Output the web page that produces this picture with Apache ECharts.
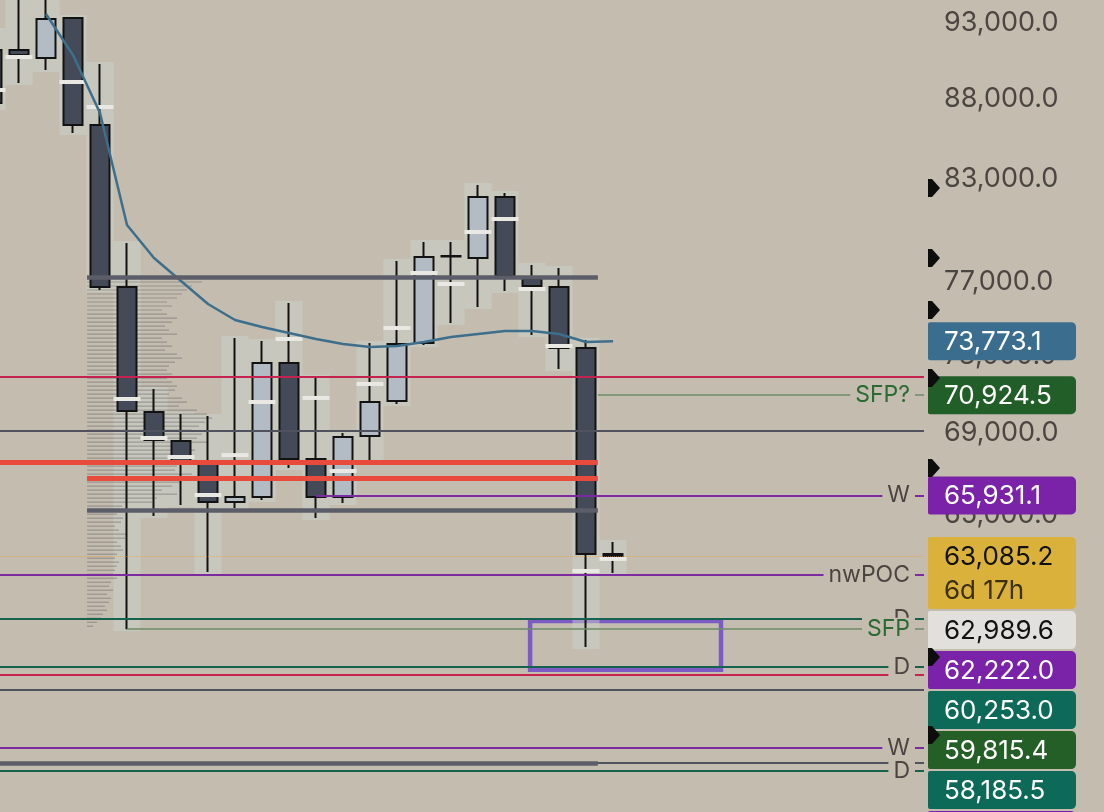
<!DOCTYPE html>
<html>
<head>
<meta charset="utf-8">
<script src="https://cdn.jsdelivr.net/npm/echarts@6/dist/echarts.min.js"></script>
<style>
  html, body { margin: 0; padding: 0; background: #c3bcaf; }
  #chart { width: 1104px; height: 812px; }
</style>
</head>
<body>
<div id="chart"></div>
<script>
// candles, oldest first (bar 0 is cut by the left edge)
var opens  = [91189, 91189, 90660, 93340, 86344, 76739, 70064, 68600, 67462, 65621, 65861, 72609, 67708, 65861, 68850, 70627, 73673, 78490, 78376, 81935, 77187, 76739, 73405, 63183]
var closes = [87738, 90858, 93271, 86344, 76739, 70115, 68650, 67511, 65621, 65861, 72609, 67708, 65861, 68800, 70576, 73620, 78433, 78462, 81935, 77356, 76795, 73405, 63183, 63085.2]
var highs  = [92527, 95300, 95500, 93400, 90264, 79237, 71247, 69962, 69859, 73941, 73780, 75850, 71873, 69001, 73673, 78205, 79295, 79295, 82654, 82174, 77978, 77807, 73833, 63737]
var lows   = [87419, 89025, 89871, 85843, 76572, 59815.4, 64955, 65477, 62361, 65335, 65717, 67266, 64861, 65574, 67659, 70473, 73566, 74753, 75629, 76516, 74102, 72292, 59048, 62316]

// moving average and per-bar point of control
var maValues = [null, null, 93611, 90858, 87102, 80282, 78376, 77075, 75794, 74916, 74536, 74211, 73889, 73620, 73460, 73514, 73726, 73996, 74157, 74320, 74320, 74157, 73726, 73773.1]
var barPoc = [88572, 90726, null, 89090, 87483, 70731, 68750, 67806, 65956, 67900, 70576, 73889, 70784, 67119, 71508, 74481, 77525, 76907, 79874, 80633, 76627, 73513, 62407, 62954]

// visible range volume profile (top row price, ratio per row, volume per row)
var profileTop = 77243
var profileStep = 0.99709
var profileVolume = [110, 115, 105, 100, 95, 90,
  80, 85, 75, 80, 90, 85, 78, 82, 90,
  75, 80, 85, 78, 90, 95, 88, 82, 80, 85,
  80, 85, 90, 88, 82, 95, 100, 92,
  110, 120, 125, 118, 112,
  105, 115, 110, 120, 100, 108, 95,
  95, 100, 90, 88, 105, 80, 95, 85, 75, 90, 70, 65,
  35, 32, 30, 36, 34, 28, 32, 40, 38, 30, 34, 36, 30, 28, 32, 30,
  28, 26, 30, 24, 22, 26, 20, 24, 22, 18, 20, 16, 14, 10, 6]
var profileFrom = 3.52

// levels
var dailyLevels = [60253.0, 58185.5, 53951.0]
var weeklyLevels = [65931.1, 54862.0]
var weeklyFrom = [12, null]
var nwPocLevel = 62222.0
var sfpLevels = [70924.5, 59815.4]
var sfpFrom = [22.44, 5]
var sfpText = ['SFP?', 'SFP']
var crimsonLevels = [71873, 57857]
var grayLevels = [69100, 57228, 54267]
var rangeLevels = [77300, 65239, 54267]
var rangeFrom = [3.52, 3.52, null]
var redLevels = [67559, 66778]
var redFrom = [null, 3.52]
var levelsTo = 22.44
var lastPrice = 63085.2
var countdown = '6d 17h'
var zone = { from: 19.93, to: 27.0, top: 60175, bottom: 58071 }

// price scale ticks and right side tags
var tickPrices = [93000, 88000, 83000, 77000, 73000, 69000, 65000]
var tagPrices = [73773.1, 70924.5, 65931.1, 63085.2, 62989.6, 62222.0, 60253.0, 59815.4, 58185.5, 54862.0, 53951.0]
var alertPrices = [82473, 78376, 75465, 71819, 67265, 58617, 55383]

var X_MIN = 8 / 27
var X_MAX = 932 / 27
var Y_MAX = Math.log(93000) + 23 / 1373.6
var Y_MIN = Math.log(93000) - 789 / 1373.6

var BG = '#c3bcaf'
var FONT = 'Inter, "Noto Sans", sans-serif'
var tagFill = ['#3b6d8f', '#225e27', '#7a22a8', '#dab13b', '#e1e0dd', '#7a22a8', '#0d6a58', '#235f26', '#0d6a58', '#7a22a8', '#0d6a58']
var tagInk = ['#fff', '#fff', '#fff', '#111', '#111', '#fff', '#fff', '#fff', '#fff', '#fff', '#fff']

function fmt (v) {
  return v.toLocaleString('en-US', { minimumFractionDigits: 1, maximumFractionDigits: 1 })
}
var L = Math.log

var chart = echarts.init(document.getElementById('chart'))

// level lines
var lines = []
var lineLabels = []
function addLine (price, from, to, color, width, type, text, textColor) {
  lines.push([
    { coord: [from == null ? X_MIN : from, L(price)], lineStyle: { color: color, width: width, type: type || 'solid' } },
    { coord: [to == null ? X_MAX : to, L(price)] }
  ])
  if (text) lineLabels.push([X_MAX, L(price), text, textColor || '#4a4540'])
}
crimsonLevels.forEach(function (p) { addLine(p, null, null, '#c4234f', 2) })
grayLevels.forEach(function (p) { addLine(p, null, null, '#50535d', 2) })
rangeLevels.forEach(function (p, i) { addLine(p, rangeFrom[i], levelsTo, '#5b5e68', 4.5) })
redLevels.forEach(function (p, i) { addLine(p, redFrom[i], levelsTo, '#e84a3b', 5) })
addLine(lastPrice, null, null, 'rgba(214,160,90,0.55)', 1, 'dotted')
weeklyLevels.forEach(function (p, i) { addLine(p, weeklyFrom[i], null, '#7b2aa0', 2, 'solid', 'W') })
addLine(nwPocLevel, null, null, '#7b2aa0', 2, 'solid', 'nwPOC')
dailyLevels.forEach(function (p) { addLine(p, null, null, '#17614f', 2, 'solid', 'D') })
sfpLevels.forEach(function (p, i) { addLine(p, sfpFrom[i], null, '#6c8c66', 1.5, 'solid', sfpText[i], '#2c6a33') })

var tagBottom = -Infinity

var option = {
  backgroundColor: BG,
  animation: false,
  grid: { left: 0, right: 180, top: 0, bottom: 0 },
  xAxis: { type: 'value', min: X_MIN, max: X_MAX, show: false },
  yAxis: {
    type: 'value',
    position: 'right',
    min: Y_MIN,
    max: Y_MAX,
    splitLine: { show: false },
    axisLine: { show: false },
    axisTick: { show: false },
    axisLabel: {
      customValues: tickPrices.map(L),
      formatter: function (v) { return fmt(Math.round(Math.exp(v))) },
      color: '#4b4641',
      fontSize: 27,
      fontFamily: FONT,
      margin: 20
    }
  },
  series: [
    {
      // per-bar range shading
      type: 'custom',
      z: 1,
      clip: true,
      data: highs.map(function (h, i) { return [i, L(h), L(lows[i])] }),
      renderItem: function (params, api) {
        var a = api.coord([api.value(0) - 0.5, api.value(1)])
        var b = api.coord([api.value(0) + 0.5, api.value(2)])
        return {
          type: 'rect',
          shape: { x: a[0], y: a[1] - 2, width: b[0] - a[0], height: b[1] - a[1] + 4 },
          style: { fill: 'rgba(206,212,206,0.45)' }
        }
      }
    },
    {
      // volume profile
      type: 'custom',
      z: 1,
      clip: true,
      data: profileVolume.map(function (v, i) { return [profileFrom, L(profileTop * Math.pow(profileStep, i)), v] }),
      renderItem: function (params, api) {
        var a = api.coord([api.value(0), api.value(1)])
        var b = api.coord([api.value(0) + api.value(2) / 27, api.value(1)])
        return {
          type: 'line',
          shape: { x1: a[0], y1: a[1], x2: b[0], y2: b[1] },
          style: { stroke: 'rgba(90,90,96,0.42)', lineWidth: 1.2 }
        }
      }
    },
    {
      type: 'candlestick',
      z: 2,
      clip: true,
      barWidth: 19,
      data: opens.map(function (o, i) { return [i, L(o), L(closes[i]), L(lows[i]), L(highs[i])] }),
      itemStyle: {
        color: '#b3bbc4',
        color0: '#444a58',
        borderColor: '#121212',
        borderColor0: '#121212',
        borderWidth: 2
      }
    },
    {
      // per-bar point of control
      type: 'custom',
      z: 3,
      clip: true,
      data: barPoc.map(function (p, i) { return p == null ? null : [i, L(p)] }).filter(Boolean),
      renderItem: function (params, api) {
        var a = api.coord([api.value(0) - 0.5, api.value(1)])
        var b = api.coord([api.value(0) + 0.5, api.value(1)])
        return {
          type: 'rect',
          shape: { x: a[0], y: a[1] - 2, width: b[0] - a[0], height: 4 },
          style: { fill: '#e9e8e3' }
        }
      }
    },
    {
      type: 'line',
      z: 4,
      symbol: 'none',
      data: maValues.map(function (v, i) { return v == null ? null : [i, L(v)] }).filter(Boolean),
      lineStyle: { color: '#3d6f8d', width: 2.5 },
      markLine: {
        silent: true,
        symbol: 'none',
        label: { show: false },
        data: lines
      },
      markArea: {
        silent: true,
        itemStyle: { color: 'rgba(0,0,0,0)', borderColor: '#7c5cc4', borderWidth: 4.5 },
        data: [[{ coord: [zone.from, L(zone.top)] }, { coord: [zone.to, L(zone.bottom)] }]]
      }
    },
    {
      // text on the level lines
      type: 'custom',
      z: 5,
      data: lineLabels,
      renderItem: function (params, api) {
        var a = api.coord([api.value(0), api.value(1)])
        var item = lineLabels[params.dataIndex]
        return {
          type: 'text',
          style: {
            x: a[0] - 9,
            y: a[1],
            text: item[2],
            fill: item[3],
            font: '23px ' + FONT,
            align: 'right',
            verticalAlign: 'middle',
            textAlign: 'right',
            textVerticalAlign: 'middle',
            backgroundColor: BG,
            padding: [0, 5, 0, 5]
          }
        }
      }
    },
    {
      // price tags on the scale
      type: 'custom',
      z: 10,
      clip: false,
      data: tagPrices.map(function (p, i) { return [X_MAX, L(p), i] }),
      renderItem: function (params, api) {
        var i = params.dataIndex
        if (i === 0) tagBottom = -Infinity
        var a = api.coord([api.value(0), api.value(1)])
        var two = tagPrices[i] === lastPrice
        var h = two ? 72 : 38
        var top = Math.max(a[1] - 19, tagBottom + 2)
        tagBottom = top + h
        var kids = [
          { type: 'rect', shape: { x: a[0] + 4, y: top, width: 148, height: h, r: [2, 5, 5, 2] }, style: { fill: tagFill[i] } },
          { type: 'text', style: { x: a[0] + 20, y: top + 20, text: fmt(tagPrices[i]), fill: tagInk[i], font: '26px ' + FONT, verticalAlign: 'middle', textVerticalAlign: 'middle' } }
        ]
        if (two) {
          kids.push({ type: 'text', style: { x: a[0] + 20, y: top + 54, text: countdown, fill: '#3b2f12', font: '26px ' + FONT, verticalAlign: 'middle', textVerticalAlign: 'middle' } })
        }
        return { type: 'group', children: kids }
      }
    },
    {
      // alert flags
      type: 'custom',
      z: 11,
      clip: false,
      data: alertPrices.map(function (p) { return [X_MAX, L(p)] }),
      renderItem: function (params, api) {
        var a = api.coord([api.value(0), api.value(1)])
        var x = a[0] + 4
        var y = a[1]
        return {
          type: 'polygon',
          shape: { points: [[x, y - 9], [x + 4, y - 9], [x + 12, y], [x + 4, y + 9], [x, y + 9]] },
          style: { fill: '#0d0d0d' }
        }
      }
    }
  ]
}

chart.setOption(option)
</script>
</body>
</html>
